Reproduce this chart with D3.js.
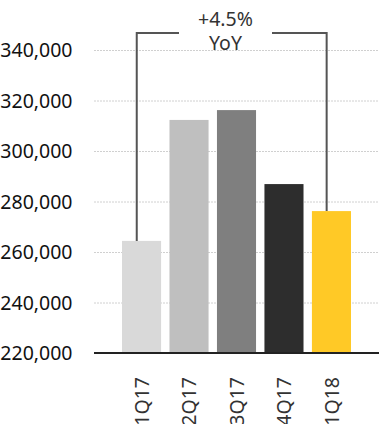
<!DOCTYPE html>
<html>
<head>
<meta charset="utf-8">
<script src="https://cdn.jsdelivr.net/npm/d3@7"></script>
<style>
  html, body { margin: 0; padding: 0; background: #fff; }
  svg { display: block; }
  text { font-family: "Noto Sans", "Open Sans", sans-serif; }
</style>
</head>
<body>
<svg id="chart" width="383" height="424"></svg>
<script>
// Quarterly values
const quarters = ["1Q17", "2Q17", "3Q17", "4Q17", "1Q18"];
const values = [264400, 312300, 316200, 286900, 276200];
const barColors = ["#d9d9d9", "#bfbfbf", "#7f7f7f", "#2d2d2d", "#ffc926"];
const yTicks = [220000, 240000, 260000, 280000, 300000, 320000, 340000];
const yoyLines = ["+4.5%", "YoY"];

const svg = d3.select("#chart");
const plotLeft = 94, plotRight = 379;
const fontSize = 19.5;

const x = d3.scaleBand()
  .domain(quarters)
  .range([plotLeft, plotRight])
  .paddingInner(0.177)
  .paddingOuter(0.59);

const y = d3.scaleLinear()
  .domain([220000, 340000])
  .range([353, 50]);

// Dotted gridlines
svg.append("g")
  .selectAll("line")
  .data(yTicks.slice(1))
  .join("line")
  .attr("x1", plotLeft).attr("x2", plotRight)
  .attr("y1", d => y(d) + 0.5).attr("y2", d => y(d) + 0.5)
  .attr("stroke", "#d0d0d0")
  .attr("stroke-width", 1)
  .attr("stroke-dasharray", "2,1");

// Y axis labels
const fmt = d3.format(",");
const yAxis = d3.axisLeft(y).tickValues(yTicks).tickFormat(fmt).tickSize(0).tickPadding(0);
const yg = svg.append("g").attr("transform", "translate(72.5,0)").call(yAxis);
yg.select(".domain").remove();
yg.selectAll("text")
  .attr("font-size", fontSize)
  .attr("fill", "#111")
  .attr("dy", "0.34em")
  .style("font-family", "'Noto Sans', sans-serif");

// Bars
svg.append("g")
  .selectAll("rect")
  .data(quarters)
  .join("rect")
  .attr("x", d => x(d))
  .attr("width", x.bandwidth())
  .attr("y", (d, i) => y(values[i]))
  .attr("height", (d, i) => y(220000) - y(values[i]))
  .attr("fill", (d, i) => barColors[i]);

// Baseline
svg.append("line")
  .attr("x1", plotLeft).attr("x2", plotRight)
  .attr("y1", y(220000)).attr("y2", y(220000))
  .attr("stroke", "#222")
  .attr("stroke-width", 2.2);

// X axis labels (rotated)
const xAxis = d3.axisBottom(x).tickSize(0).tickPadding(0);
const xg = svg.append("g").attr("transform", `translate(0,${y(220000)})`).call(xAxis);
xg.select(".domain").remove();
xg.selectAll("text")
  .attr("font-size", fontSize)
  .attr("fill", "#333")
  .attr("transform", "rotate(-90)")
  .attr("text-anchor", "end")
  .attr("x", -24)
  .attr("y", 0)
  .attr("dy", "0.38em")
  .style("font-family", "'Noto Sans', sans-serif");

// YoY bracket from the first to the last quarter
const first = quarters[0], last = quarters[quarters.length - 1];
const bx1 = x(first) + x.bandwidth() / 2 - 4.8;
const bx2 = x(last) + x.bandwidth() / 2 - 4.8;
const by = 33;
const gapL = 179, gapR = 272;
const bracket = svg.append("g")
  .attr("fill", "none")
  .attr("stroke", "#555")
  .attr("stroke-width", 2);
bracket.append("path")
  .attr("d", `M${bx1},${y(values[0])}V${by}H${gapL}`);
bracket.append("path")
  .attr("d", `M${gapR},${by}H${bx2}V${y(values[values.length - 1])}`);

const label = svg.append("text")
  .attr("text-anchor", "middle")
  .attr("font-size", fontSize)
  .attr("fill", "#333");
label.selectAll("tspan")
  .data(yoyLines)
  .join("tspan")
  .attr("x", (gapL + gapR) / 2)
  .attr("y", (d, i) => 26 + i * 24)
  .text(d => d);
</script>
</body>
</html>
